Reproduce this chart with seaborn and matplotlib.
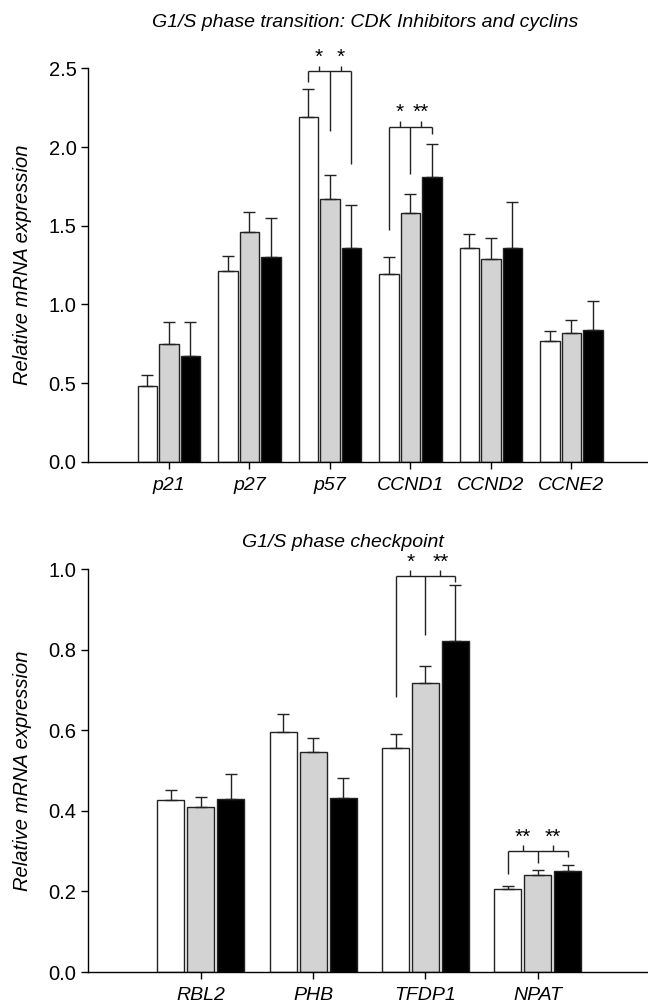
import matplotlib
matplotlib.use("Agg")
import matplotlib.pyplot as plt
import seaborn as sns
import pandas as pd

# groups (no legend in the original figure)
GROUPS = ["Group 1", "Group 2", "Group 3"]
COLORS = ["white", "#d3d3d3", "black"]

# top panel: CDK inhibitors and cyclins
TOP_GENES = ["p21", "p27", "p57", "CCND1", "CCND2", "CCNE2"]
TOP_MEANS = [
    [0.48, 1.21, 2.19, 1.19, 1.36, 0.77],
    [0.75, 1.46, 1.67, 1.58, 1.29, 0.82],
    [0.67, 1.30, 1.36, 1.81, 1.36, 0.84],
]
TOP_ERRS = [
    [0.07, 0.10, 0.18, 0.11, 0.09, 0.06],
    [0.14, 0.13, 0.15, 0.12, 0.13, 0.08],
    [0.22, 0.25, 0.27, 0.21, 0.29, 0.18],
]
# significance: gene, bracket height, leg bottoms (white, grey, black), stars
TOP_SIG = [
    ("p57", 2.48, [2.415, 2.10, 1.89], ["*", "*"]),
    ("CCND1", 2.13, [1.47, 1.83, 2.08], ["*", "**"]),
]

# bottom panel: checkpoint
BOT_GENES = ["RBL2", "PHB", "TFDP1", "NPAT"]
BOT_MEANS = [
    [0.426, 0.597, 0.557, 0.206],
    [0.411, 0.546, 0.717, 0.242],
    [0.430, 0.431, 0.821, 0.250],
]
BOT_ERRS = [
    [0.025, 0.045, 0.035, 0.007],
    [0.024, 0.034, 0.044, 0.011],
    [0.061, 0.050, 0.139, 0.017],
]
BOT_SIG = [
    ("TFDP1", 0.983, [0.684, 0.837, 0.968], ["*", "**"]),
    ("NPAT", 0.300, [0.2445, 0.270, 0.285], ["**", "**"]),
]

sns.set_style("ticks")
plt.rcParams['font.family'] = ['Liberation Sans', 'DejaVu Sans']
plt.rcParams['text.color'] = 'black'
plt.rcParams['axes.labelcolor'] = 'black'
plt.rcParams['xtick.color'] = 'black'
plt.rcParams['ytick.color'] = 'black'


def draw_panel(ax, genes, means, errs, sigs, title, title_x, title_y, ymax, ystep, xmax):
    rows = []
    for g, vals in zip(GROUPS, means):
        for gene, v in zip(genes, vals):
            rows.append({"gene": gene, "group": g, "value": v})
    df = pd.DataFrame(rows)

    sns.barplot(
        data=df, x="gene", y="value", hue="group",
        order=genes, hue_order=GROUPS, palette=COLORS,
        width=0.8, gap=0.1, edgecolor="#222222", linewidth=1.0,
        errorbar=None, legend=False, saturation=1, ax=ax,
    )

    # upper error bars only
    centers = []
    for cont, ee in zip(ax.containers, errs):
        cc = []
        for bar, e in zip(cont, ee):
            x = bar.get_x() + bar.get_width() / 2
            cc.append(x)
            ax.errorbar(x, bar.get_height(), yerr=[[0], [e]], fmt="none",
                        ecolor="#222222", elinewidth=1.0, capsize=4.3, capthick=1.0)
        centers.append(cc)

    # significance brackets
    span = ymax
    for gene, yb, legs, stars in sigs:
        i = genes.index(gene)
        xs = [centers[h][i] for h in range(3)]
        kw = dict(color="#222222", lw=1.0, clip_on=False, solid_capstyle="butt")
        ax.plot([xs[0], xs[2]], [yb, yb], **kw)
        for x, y0 in zip(xs, legs):
            ax.plot([x, x], [y0, yb], **kw)
        for k, s in enumerate(stars):
            xm = (xs[k] + xs[k + 1]) / 2
            ax.plot([xm, xm], [yb, yb + 0.015 * span], **kw)
            ax.text(xm, yb + 0.012 * span, s, ha="center", va="bottom",
                    fontsize=15, clip_on=False)

    ax.set_xlim(-1, xmax)
    ax.set_ylim(0, ymax)
    nt = int(round(ymax / ystep))
    ticks = [k * ystep for k in range(nt + 1)]
    ax.set_yticks(ticks)
    ax.set_yticklabels([f"{t:.1f}" for t in ticks], fontsize=14.5)
    ax.set_xlabel("")
    ax.set_ylabel("Relative mRNA expression", fontsize=14.5, style="italic", labelpad=12)
    for lab in ax.get_xticklabels():
        lab.set_fontstyle("italic")
        lab.set_fontsize(14)
    ax.tick_params(axis="both", direction="out", length=5, width=1.0, color="black")
    ax.tick_params(axis="x", pad=6)
    sns.despine(ax=ax)
    for sp in ("left", "bottom"):
        ax.spines[sp].set_linewidth(1.0)
        ax.spines[sp].set_color("black")
    ax.text(title_x, title_y, title, transform=ax.transAxes, ha="center",
            va="bottom", fontsize=14, style="italic")


fig = plt.figure(figsize=(6.48, 10.05), dpi=100)
ax1 = fig.add_axes([0.1363, 0.5406, 0.8637, 0.3914])
ax2 = fig.add_axes([0.1363, 0.0328, 0.8637, 0.4007])

draw_panel(ax1, TOP_GENES, TOP_MEANS, TOP_ERRS, TOP_SIG,
           "G1/S phase transition: CDK Inhibitors and cyclins", 0.494, 1.095,
           2.5, 0.5, 5.95)

draw_panel(ax2, BOT_GENES, BOT_MEANS, BOT_ERRS, BOT_SIG,
           "G1/S phase checkpoint", 0.454, 1.045, 1.0, 0.2, 3.98)

fig.savefig("out.png", dpi=100)
